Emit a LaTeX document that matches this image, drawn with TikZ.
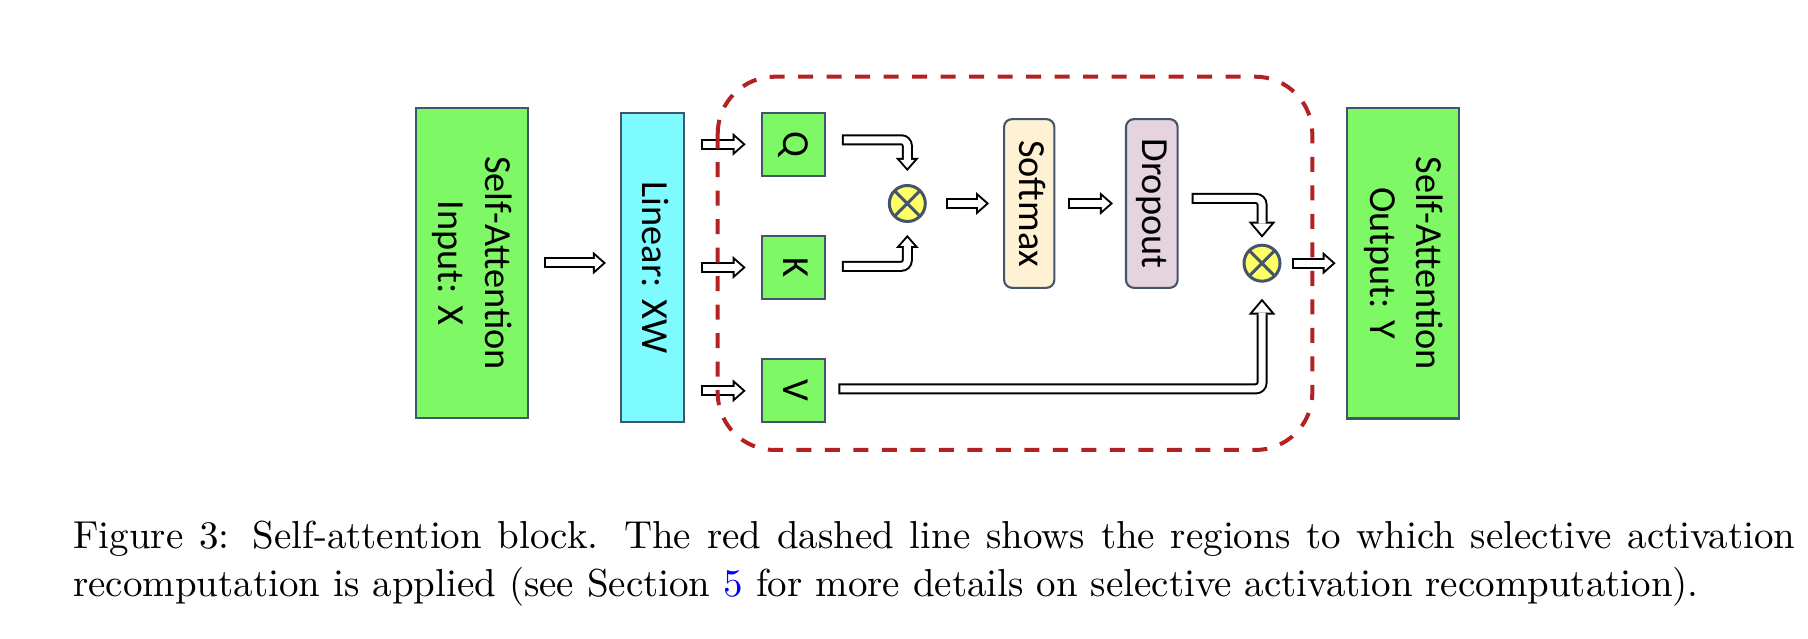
\documentclass[tikz,border=0pt]{standalone}
\usepackage{fontspec}
\usepackage{graphicx}
\usepackage{tikz}
\usetikzlibrary{arrows.meta, positioning, calc}
\newfontfamily\calibri{Carlito}
\newfontfamily\leyenda{lmroman10-regular.otf}

\definecolor{verde}{RGB}{127,248,102}
\definecolor{cian}{RGB}{125,251,255}
\definecolor{borde}{RGB}{68,84,106}
\definecolor{crema}{RGB}{255,242,212}
\definecolor{malva}{RGB}{229,211,221}
\definecolor{amarillo}{RGB}{255,255,102}
\definecolor{rojo}{RGB}{178,34,34}

\newcommand{\vtexto}[1]{\rotatebox{-90}{\begin{tabular}{@{}c@{}}#1\end{tabular}}}

\tikzset{
  caja/.style={draw=borde, line width=0.6pt, inner sep=0pt, font=\calibri\fontsize{10.9}{13.3}\selectfont},
  otimes/.style={circle, draw=borde, fill=amarillo, line width=0.03cm, minimum size=0.36cm, inner sep=0pt,
    path picture={\draw[borde, line width=0.03cm]
      (path picture bounding box.north west) -- (path picture bounding box.south east)
      (path picture bounding box.north east) -- (path picture bounding box.south west);}},
  hueca/.style={line width=0.11cm, rounded corners=0.06cm,
    -{Triangle[width=0.23cm, length=0.13cm, line width=0pt]},
    postaction={draw=white, line width=0.07cm, shorten <=0.02cm, shorten >=0.03cm,
      -{Triangle[width=0.141cm, length=0.08cm, line width=0pt]}}},
  hueca grande/.style={line width=0.11cm, rounded corners=0.06cm,
    -{Triangle[width=0.27cm, length=0.16cm, line width=0pt]},
    postaction={draw=white, line width=0.07cm, shorten <=0.02cm, shorten >=0.031cm,
      -{Triangle[width=0.184cm, length=0.109cm, line width=0pt]}}},
  region/.style={draw=rojo, line width=0.04cm, dash pattern=on 0.15cm off 0.135cm, rounded corners=0.57cm}
}

\begin{document}
\begin{tikzpicture}[node distance=1cm]
    \useasboundingbox (0,0) rectangle (18.08,-6.39);

    % Nodos principales
    \node (in) [caja, fill=verde, minimum width=1.12cm, minimum height=3.10cm] at (4.717,-2.63) {\vtexto{Self-Attention\\Input: X}};
    \node (lin) [caja, fill=cian, right of=in, xshift=0.806cm, yshift=-0.045cm, minimum width=0.627cm, minimum height=3.096cm] {\vtexto{Linear: XW}};
    \node (k) [caja, fill=verde, right of=lin, xshift=0.409cm, minimum size=0.63cm] {\vtexto{K}};
    \node (q) [caja, fill=verde, above of=k, yshift=0.232cm, minimum size=0.63cm] {\vtexto{Q}};
    \node (v) [caja, fill=verde, below of=k, yshift=-0.233cm, minimum size=0.63cm] {\vtexto{V}};
    \node (ot1) [otimes, right of=k, xshift=0.141cm, yshift=0.64cm] {};
    \node (sm) [caja, fill=crema, rounded corners=0.08cm, right of=ot1, xshift=0.219cm, minimum width=0.503cm, minimum height=1.687cm] {\vtexto{Softmax}};
    \node (dr) [caja, fill=malva, rounded corners=0.08cm, right of=sm, xshift=0.226cm, minimum width=0.517cm, minimum height=1.687cm] {\vtexto{Dropout}};
    \node (ot2) [otimes, right of=dr, xshift=0.102cm, yshift=-0.597cm] {};
    \node (out) [caja, fill=verde, right of=ot2, xshift=0.408cm, minimum width=1.123cm, minimum height=3.107cm] {\vtexto{Self-Attention\\Output: Y}};

    % Flechas
    \draw[hueca] ([xshift=0.15cm]in.east) -- ($(in.east -| lin.west)+(-0.14,0)$);
    \foreach \n in {q,k,v}
        \draw[hueca] ($(lin.east |- \n.west)+(0.16,0)$) -- ([xshift=-0.15cm]\n.west);
    \draw[hueca] ([xshift=0.16cm,yshift=0.045cm]q.east) -| ([yshift=0.13cm]ot1.north);
    \draw[hueca] ([xshift=0.16cm,yshift=0.012cm]k.east) -| ([yshift=-0.12cm]ot1.south);
    \draw[hueca] ([xshift=0.19cm]ot1.east) -- ($(ot1.east -| sm.west)+(-0.14,0)$);
    \draw[hueca] ([xshift=0.127cm]sm.east) -- ([xshift=-0.12cm]dr.west);
    \draw[hueca grande] ([xshift=0.13cm,yshift=0.05cm]dr.east) -| ([yshift=0.06cm]ot2.north);
    \draw[hueca grande] ([xshift=0.126cm,yshift=0.02cm]v.east) -| ([yshift=-0.16cm]ot2.south);
    \draw[hueca] ([xshift=0.10cm]ot2.east) -- ($(ot2.east -| out.west)+(-0.10,0)$);

    % Zona de recomputo
    \draw[region] (7.177,-0.767) rectangle (13.123,-4.50);

    % Pie de figura
    \node (cap) [anchor=north west, inner sep=0pt, text width=17.22cm, align=justify, font=\leyenda\fontsize{11.09}{13.78}\selectfont] at (0.727,-5.20)
        {Figure 3: Self-attention block. The red dashed line shows the regions to which selective activation recomputation is applied (see Section \textcolor{blue}{5} for more details on selective activation recomputation).};
\end{tikzpicture}
\end{document}
